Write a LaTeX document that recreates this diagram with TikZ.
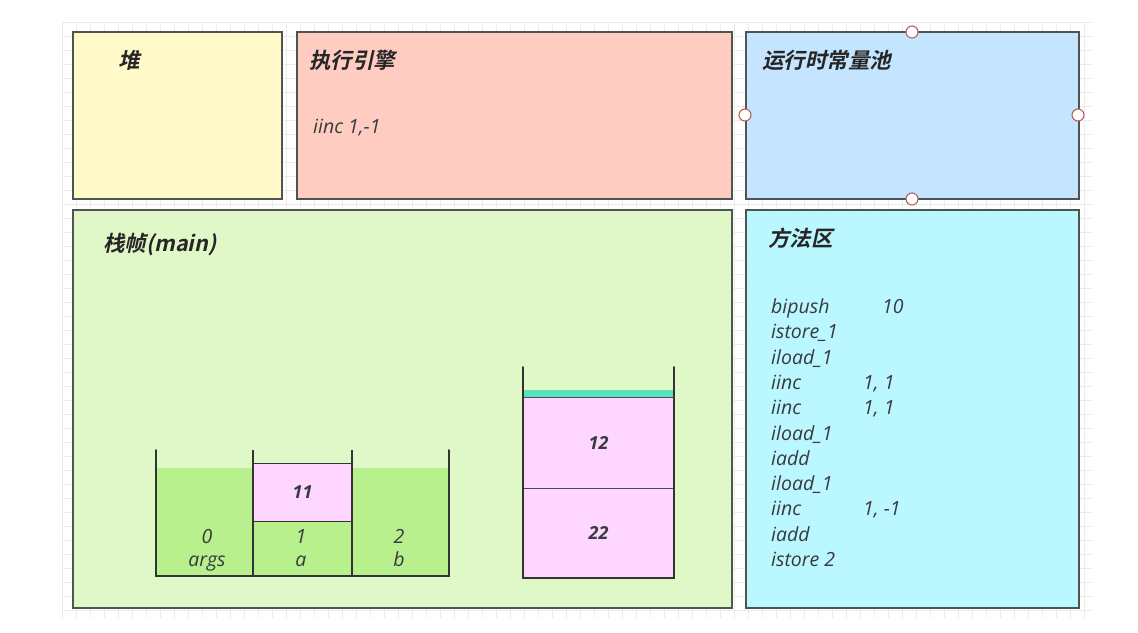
\documentclass[tikz,border=0pt]{standalone}
\usepackage{fontspec}
\setmainfont{Open Sans}
\newfontfamily\cjk{Noto Sans CJK SC}[FakeSlant=0.22,BoldFont={Noto Sans CJK SC Bold},BoldFeatures={FakeSlant=0.22}]
\usetikzlibrary{positioning}
\definecolor{heapyellow}{RGB}{255,250,200}
\definecolor{enginered}{RGB}{255,204,194}
\definecolor{poolblue}{RGB}{197,228,255}
\definecolor{framegreen}{RGB}{224,248,200}
\definecolor{methodcyan}{RGB}{187,247,255}
\definecolor{slotgreen}{RGB}{185,240,142}
\definecolor{valuepink}{RGB}{255,214,255}
\definecolor{topteal}{RGB}{88,226,192}
\definecolor{edgegray}{RGB}{78,84,80}
\definecolor{inkgray}{RGB}{55,58,62}
\definecolor{gridgray}{RGB}{236,236,236}
\definecolor{handlered}{RGB}{184,96,86}

\begin{document}
\begin{tikzpicture}[
  x=1pt, y=-1pt,
  region/.style={draw=edgegray, line width=1.2pt, inner sep=0pt},
  title/.style={anchor=west, font=\cjk\bfseries\fontsize{21.5}{25}\selectfont,
    text=black!85, inner sep=0pt},
  code/.style={anchor=base west, font=\itshape\fontsize{19.5}{23}\selectfont,
    text=inkgray, inner sep=0pt},
  value/.style={font=\bfseries\itshape\fontsize{18}{21}\selectfont,
    text=inkgray, inner sep=0pt},
  wall/.style={draw=black!80, line width=2pt},
  handle/.style={circle, draw=handlered, fill=white, line width=1.1pt,
    minimum size=12pt, inner sep=0pt},
]
  \useasboundingbox[fill=white] (0,0) rectangle (1138,632);

  % Background grid
  \foreach \gx in {62,76,...,1092}
    \draw[gridgray, line width=0.6pt] (\gx,22) -- (\gx,618);
  \foreach \gy in {22,36,...,618}
    \draw[gridgray, line width=0.6pt] (62,\gy) -- (1092,\gy);

  % Memory regions
  \node[region, fill=heapyellow, minimum width=209pt, minimum height=167pt]
    (heap) at (177.5,115.5) {};
  \node[region, fill=enginered, minimum width=435pt, minimum height=167pt]
    (engine) at (514.5,115.5) {};
  \node[region, fill=poolblue, minimum width=333pt, minimum height=167pt]
    (pool) at (912.5,115.5) {};
  \node[region, fill=framegreen, minimum width=659pt, minimum height=398pt]
    (frame) at (402.5,409) {};
  \node[region, fill=methodcyan, minimum width=333pt, minimum height=398pt]
    (method) at (912.5,409) {};

  % Region titles
  \node[title] (heapT) at (118,60) {堆};
  \node[title] (engineT) at (309,60) {执行引擎};
  \node[title] (poolT) at (762,60) {运行时常量池};
  \node[title] (frameT) at (103,245) {栈帧(main)};
  \node[title] (methodT) at (768,238) {方法区};

  \node[code] (engineOp) at (313,133) {iinc 1,-1};

  % Selection handles
  \foreach \hp/\hn in {{(912,32)}/n, {(745,115)}/w, {(1078,115)}/e, {(912,199)}/s}
    \node[handle] (pool\hn) at \hp {};

  % Local variable table
  \fill[slotgreen] (156,468) rectangle (253,576);
  \fill[slotgreen] (352,468) rectangle (449,576);
  \fill[slotgreen] (253,521) rectangle (352,576);
  \node[draw=black!80, line width=1pt, fill=valuepink, minimum width=99pt,
    minimum height=58pt, value] (slotA) at (302.5,492) {11};
  \draw[wall, line cap=round] (156,450) -- (156,576) -- (449,576) -- (449,450);
  \draw[wall] (253,450) -- (253,576);
  \draw[wall] (352,450) -- (352,576);
  \node[code, anchor=base] (idx0) at (207,543) {0};
  \node[code, anchor=base] (var0) at (207,566) {args};
  \node[code, anchor=base] (idx1) at (301,543) {1};
  \node[code, anchor=base] (var1) at (301,566) {a};
  \node[code, anchor=base] (idx2) at (399,543) {2};
  \node[code, anchor=base] (var2) at (399,566) {b};

  % Operand stack
  \fill[topteal] (523,390) rectangle (674,397);
  \node[draw=black!70, line width=0.8pt, fill=valuepink, minimum width=151pt,
    minimum height=91pt, value] (opTop) at (598.5,442.5) {12};
  \node[draw=black!70, line width=0.8pt, fill=valuepink, minimum width=151pt,
    minimum height=90pt, value] (opBottom) at (598.5,533) {22};
  \draw[wall, line cap=round] (523,367) -- (523,578) -- (674,578) -- (674,367);

  % Bytecode listing
  \foreach \op [count=\i from 0] in {bipush, istore\_1, iload\_1, iinc, iinc,
      iload\_1, iadd, iload\_1, iinc, iadd, istore 2}
    \node[code] (op\i) at (771,313.5+25.3*\i) {\op};
  \node[code] (arg0) at (882,313.5) {10};
  \node[code] (arg3) at (863,313.5+25.3*3) {1, 1};
  \node[code] (arg4) at (863,313.5+25.3*4) {1, 1};
  \node[code] (arg8) at (863,313.5+25.3*8) {1, -1};
\end{tikzpicture}
\end{document}
